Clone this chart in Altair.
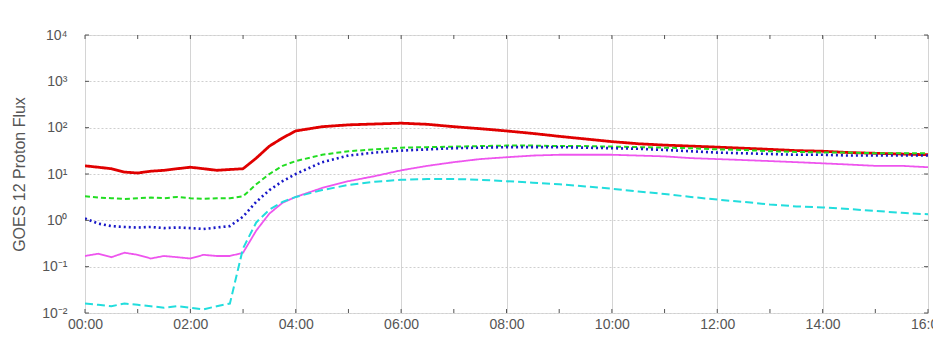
import altair as alt
import pandas as pd

hours = [0, 0.25, 0.5, 0.75, 1.0, 1.25, 1.5, 1.75, 2.0, 2.25, 2.5, 2.75, 3.0, 3.25, 3.5, 3.75, 4.0,
         4.5, 5, 5.5, 6, 6.5, 7, 7.5, 8, 8.5, 9, 9.5, 10, 10.5, 11, 11.5, 12, 12.5, 13, 13.5, 14,
         14.5, 15, 15.5, 16]

red = [15, 14, 13, 11, 10.5, 11.5, 12, 13, 14, 13, 12, 12.5, 13, 22, 40, 60, 85,
       105, 115, 120, 125, 118, 105, 95, 85, 75, 65, 57, 50, 45, 42, 40, 38, 36, 34, 32, 31,
       29, 28, 27, 26]
green = [3.3, 3.1, 3.0, 2.9, 3.0, 3.1, 3.0, 3.2, 3.0, 2.9, 3.0, 3.0, 3.3, 6, 10, 15, 19,
         26, 31, 34, 37, 38, 39, 40, 41, 41, 40, 40, 39, 38, 37, 36, 34, 33, 31, 30, 29,
         29, 28, 28, 28]
blue = [1.1, 0.85, 0.75, 0.72, 0.7, 0.72, 0.68, 0.7, 0.68, 0.65, 0.7, 0.75, 1.2, 2.5, 4.5, 7, 10,
        18, 25, 29, 32, 34, 36, 37, 38, 38, 38, 37, 36, 35, 33, 31, 29, 28, 27, 26, 26,
        25, 25, 25, 25]
magenta = [0.17, 0.19, 0.16, 0.2, 0.18, 0.15, 0.17, 0.16, 0.15, 0.18, 0.17, 0.17, 0.2, 0.6, 1.4, 2.4, 3.2,
           5, 7, 9, 12, 15, 18, 21, 23, 25, 26, 26, 26, 25, 24, 22, 21, 20, 19, 18, 17,
           16, 15, 15, 14]
cyan = [0.016, 0.015, 0.014, 0.016, 0.015, 0.014, 0.013, 0.014, 0.013, 0.012, 0.014, 0.016, 0.25, 0.9, 1.7, 2.5, 3.2,
        4.5, 5.8, 6.8, 7.5, 7.8, 7.8, 7.5, 7.0, 6.5, 6.0, 5.4, 4.8, 4.2, 3.7, 3.2, 2.8, 2.5, 2.2, 2.0, 1.9,
        1.75, 1.6, 1.45, 1.35]

series_names = ["red", "green", "blue", "magenta", "cyan"]
series_vals = [red, green, blue, magenta, cyan]
series_colors = ["#e00000", "#22dd22", "#1818c8", "#ee55ee", "#22dddd"]
series_dash = [[1, 0], [5, 3], [2, 3], [1, 0], [8, 4]]
series_width = [2.8, 2.0, 2.6, 1.8, 2.0]

x_ticks = list(range(0, 17, 2))
x_minor = list(range(0, 17))
y_ticks = [0.01, 0.1, 1, 10, 100, 1000, 10000]

W, H = 843, 278

x_scale = alt.Scale(domain=[0, 16], nice=False, zero=False)
y_scale = alt.Scale(type="log", domain=[0.01, 10000], nice=False)

ylab = ("datum.value >= 9999 ? '10\u2074' : datum.value >= 999 ? '10\u00b3' : "
        "datum.value >= 99 ? '10\u00b2' : datum.value >= 9 ? '10\u00b9' : "
        "datum.value >= 0.9 ? '10\u2070' : datum.value >= 0.09 ? '10\u207b\u00b9' : '10\u207b\u00b2'")
xlab = "(datum.value < 10 ? '0' : '') + datum.value + ':00'"

layers = []
for name, vals, col, dash, sw in zip(series_names, series_vals, series_colors, series_dash, series_width):
    df = pd.DataFrame({"t": hours, "v": vals})
    layers.append(
        alt.Chart(df).mark_line(color=col, strokeDash=dash, strokeWidth=sw, clip=True).encode(
            x=alt.X("t:Q", scale=x_scale,
                    axis=alt.Axis(values=x_ticks, labelExpr=xlab, title=None, grid=True,
                                  gridColor="#d4d4d4", gridWidth=1, ticks=False, tickSize=0,
                                  domain=False, labelPadding=4, labelFlush=False,
                                  labelFont="Liberation Sans", labelFontSize=14,
                                  labelColor="#555")),
            y=alt.Y("v:Q", scale=y_scale,
                    axis=alt.Axis(values=y_ticks, labelExpr=ylab, title="GOES 12 Proton Flux",
                                  titleX=-66, titleBaseline="middle", titleFont="Liberation Sans",
                                  titleFontSize=16, titleFontWeight="normal", titleColor="#555",
                                  grid=True, gridColor="#cfcfcf", gridDash=[2, 2], gridWidth=1,
                                  ticks=False, tickSize=0, domain=False, labelPadding=18,
                                  labelFlush=False, labelFont="Liberation Sans",
                                  labelFontSize=14, labelColor="#555")),
        )
    )

tick_df = pd.DataFrame({"t": x_minor})
bottom_ticks = alt.Chart(tick_df).mark_rule(color="#555", strokeWidth=1).encode(
    x=alt.X("t:Q", scale=x_scale), y=alt.value(H), y2=alt.value(H - 4))
top_ticks = alt.Chart(tick_df).mark_rule(color="#555", strokeWidth=1).encode(
    x=alt.X("t:Q", scale=x_scale), y=alt.value(0), y2=alt.value(4))
ytick_df = pd.DataFrame({"v": y_ticks})
left_ticks = alt.Chart(ytick_df).mark_rule(color="#555", strokeWidth=1).encode(
    y=alt.Y("v:Q", scale=y_scale), x=alt.value(0), x2=alt.value(4))
right_ticks = alt.Chart(ytick_df).mark_rule(color="#555", strokeWidth=1).encode(
    y=alt.Y("v:Q", scale=y_scale), x=alt.value(W), x2=alt.value(W - 4))

chart = alt.layer(*layers, bottom_ticks, top_ticks, left_ticks, right_ticks).properties(
    width=W, height=H,
    autosize=alt.AutoSizeParams(type="none"),
    padding={"left": 77, "top": 27, "right": 5, "bottom": 18},
).configure_view(stroke="#888", strokeWidth=1.5).configure(background="white")

chart.save("out.html", embed_options={"renderer": "svg", "actions": False})
